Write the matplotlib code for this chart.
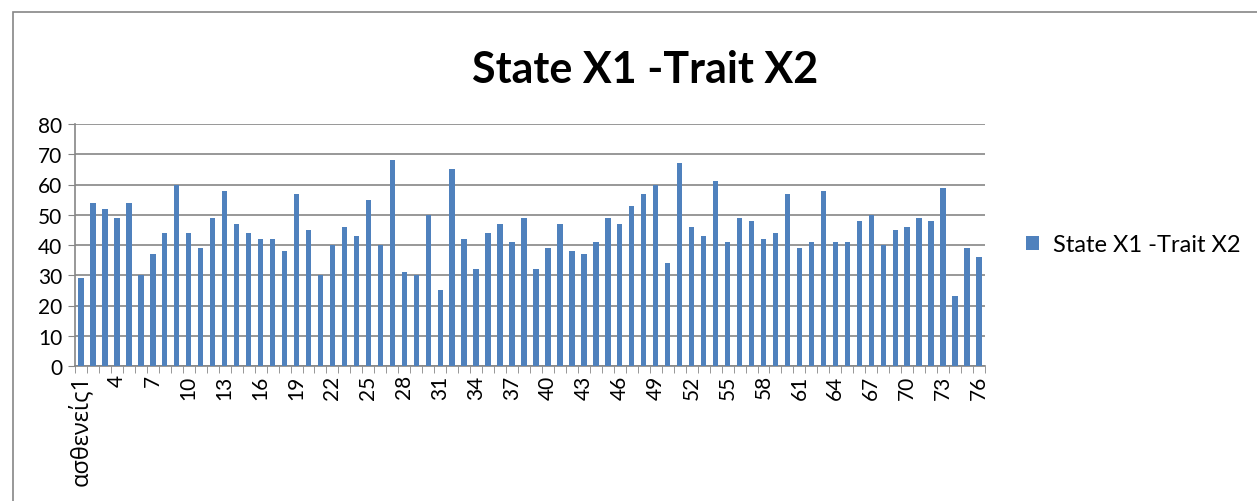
import matplotlib.pyplot as plt
from matplotlib.patches import Rectangle

plt.rcParams['font.family'] = ['Lato', 'DejaVu Sans']

values = [29, 54, 52, 49, 54, 30, 37, 44, 60, 44, 39, 49, 58, 47, 44, 42, 42, 38, 57, 45,
          30, 40, 46, 43, 55, 40, 68, 31, 30, 50, 25, 65, 42, 32, 44, 47, 41, 49, 32, 39,
          47, 38, 37, 41, 49, 47, 53, 57, 60, 34, 67, 46, 43, 61, 41, 49, 48, 42, 44, 57,
          39, 41, 58, 41, 41, 48, 50, 40, 45, 46, 49, 48, 59, 23, 39, 36]
categories = ['ασθενείς1'] + [str(i) for i in range(2, 77)]
series_name = 'State X1 -Trait X2'
title = 'State X1 -Trait X2'

blue = '#4F81BD'
grey = '#868686'

fig = plt.figure(figsize=(12.57, 5.02), dpi=100)
# chart frame: only left and top edges fall inside the picture
fig.patches.append(Rectangle((13 / 1257, -0.1), 1.2, 1.1 - 13 / 502,
                             transform=fig.transFigure, fill=False,
                             edgecolor=grey, linewidth=1.2))

ax = fig.add_axes([75 / 1257, (502 - 367) / 502, 910 / 1257, 242 / 502])
x = list(range(len(values)))
ax.bar(x, values, width=0.45, color=blue, label=series_name, zorder=3)

ax.set_xlim(-0.5, len(values) - 0.5)
ax.set_ylim(0, 80)
ax.set_yticks(range(0, 81, 10))
ax.yaxis.grid(True, color=grey, linewidth=1.2, zorder=0)
ax.tick_params(axis='y', length=5, color=grey, labelsize=15, pad=4)

ax.set_xticks(x[::3])
ax.set_xticklabels(categories[::3], rotation=90, fontsize=15)
first = ax.get_xticklabels()[0]
first.set_family(['Open Sans', 'DejaVu Sans'])
first.set_fontsize(17)
ax.set_xticks([i - 0.5 for i in range(len(values) + 1)], minor=True)
ax.tick_params(axis='x', which='major', length=0, pad=6)
ax.tick_params(axis='x', which='minor', length=5, color=grey)

for s in ['top', 'right']:
    ax.spines[s].set_visible(False)
ax.spines['left'].set_color(grey)
ax.spines['bottom'].set_color(grey)
ax.spines['left'].set_linewidth(1.2)
ax.spines['bottom'].set_linewidth(1.2)

fig.text(645 / 1257, 1 - 70 / 502, title, ha='center', va='center',
         fontsize=31, fontweight='bold')

fig.legend(loc='center left', bbox_to_anchor=(1005 / 1257, 1 - 246 / 502),
           frameon=False, fontsize=17, handlelength=0.55, handleheight=0.55,
           handletextpad=0.6)

fig.savefig('out.png', dpi=100)
